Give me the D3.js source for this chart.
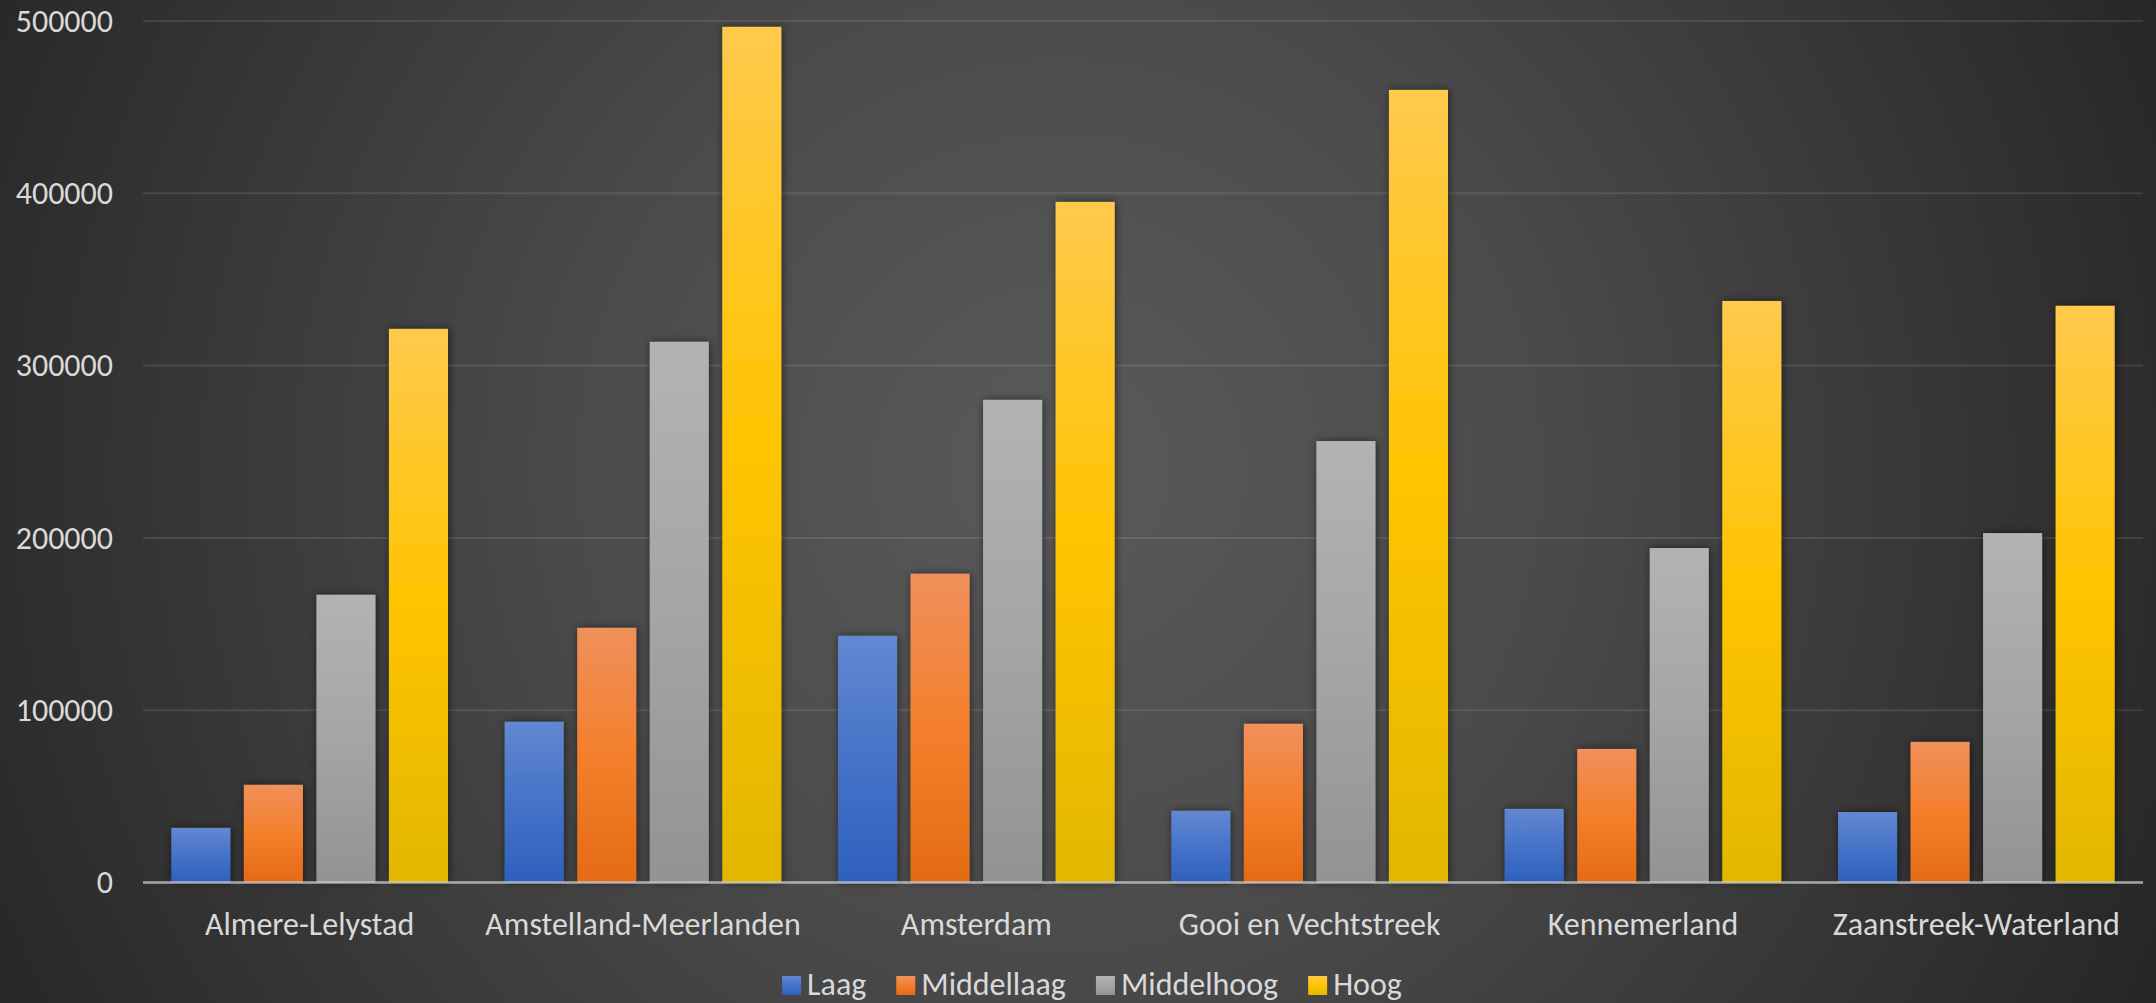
<!DOCTYPE html>
<html>
<head>
<meta charset="utf-8">
<script src="https://cdn.jsdelivr.net/npm/d3@7"></script>
<style>
  html, body { margin: 0; padding: 0; background: #2a2a2a; }
  svg { display: block; }
  text { font-family: Carlito, Calibri, Lato, "Open Sans", sans-serif; fill: #d9d9d9; }
</style>
</head>
<body>
<div id="chart"></div>
<script>
const categories = ["Almere-Lelystad", "Amstelland-Meerlanden", "Amsterdam", "Gooi en Vechtstreek", "Kennemerland", "Zaanstreek-Waterland"];
const seriesNames = ["Laag", "Middellaag", "Middelhoog", "Hoog"];
const laag = [31700, 93300, 143200, 41600, 42700, 40900];
const middellaag = [56700, 147800, 179200, 92100, 77500, 81600];
const middelhoog = [167000, 313800, 280100, 256200, 194100, 202800];
const hoog = [321300, 496600, 395000, 460000, 337500, 334700];
const yTicks = [0, 100000, 200000, 300000, 400000, 500000];

const seriesValues = [laag, middellaag, middelhoog, hoog];
const gradStops = [
  ["#6388d1", "#4673c8", "#2e60bd"],
  ["#f0905c", "#f47f2c", "#e46b15"],
  ["#b3b3b3", "#a5a5a5", "#939393"],
  ["#ffc94c", "#ffc400", "#e2b700"]
];

const W = 2156, H = 1003;
const margin = { left: 143, right: 13, top: 21, bottom: 120 };
const plotW = W - margin.left - margin.right;
const FS = 32;

const svg = d3.select("#chart").append("svg").attr("width", W).attr("height", H);
const defs = svg.append("defs");

const bg = defs.append("radialGradient").attr("id", "bg")
  .attr("gradientUnits", "userSpaceOnUse")
  .attr("cx", 1060).attr("cy", 470).attr("r", 1190);
[[0, "#5a5a5a"], [0.4, "#4b4b4b"], [0.8, "#333333"], [1, "#272727"]]
  .forEach(([o, c]) => bg.append("stop").attr("offset", o).attr("stop-color", c));

gradStops.forEach((s, i) => {
  const g = defs.append("linearGradient").attr("id", "g" + i)
    .attr("x1", 0).attr("y1", 0).attr("x2", 0).attr("y2", 1);
  g.append("stop").attr("offset", 0).attr("stop-color", s[0]);
  g.append("stop").attr("offset", 0.5).attr("stop-color", s[1]);
  g.append("stop").attr("offset", 1).attr("stop-color", s[2]);
});

const f = defs.append("filter").attr("id", "shadow")
  .attr("x", "-50%").attr("y", "-10%").attr("width", "200%").attr("height", "120%");
f.append("feDropShadow").attr("dx", 1).attr("dy", 0).attr("stdDeviation", 4)
  .attr("flood-color", "#000").attr("flood-opacity", 0.55);

svg.append("rect").attr("width", W).attr("height", H).attr("fill", "url(#bg)");

const y = d3.scaleLinear().domain([0, 500000]).range([882.5, 21]);
const x0 = d3.scaleBand().domain(categories).range([margin.left, margin.left + plotW])
  .paddingInner(0.17).paddingOuter(0.085);
const x1 = d3.scaleBand().domain(seriesNames).range([0, x0.bandwidth()])
  .paddingInner(0.186).paddingOuter(0);

// gridlines
svg.append("g").selectAll("line").data(yTicks.filter(d => d > 0)).join("line")
  .attr("x1", margin.left).attr("x2", margin.left + plotW)
  .attr("y1", d => y(d)).attr("y2", d => y(d))
  .attr("stroke", "#ffffff").attr("stroke-opacity", 0.1).attr("stroke-width", 2);

// y axis labels
const yAxis = d3.axisLeft(y).tickValues(yTicks).tickFormat(d3.format("d")).tickSize(0).tickPadding(0);
const ya = svg.append("g").attr("transform", "translate(113,0)").call(yAxis);
ya.select(".domain").remove();
ya.selectAll("text").attr("font-size", FS).attr("fill", "#d9d9d9")
  .style("font-family", "Carlito, Calibri, Lato, sans-serif");

// bars
const groups = svg.append("g").selectAll("g").data(categories).join("g")
  .attr("transform", d => `translate(${x0(d)},0)`);
groups.selectAll("rect")
  .data((c, ci) => seriesNames.map((s, si) => ({ s, si, v: seriesValues[si][ci] })))
  .join("rect")
  .attr("x", d => x1(d.s))
  .attr("width", x1.bandwidth())
  .attr("y", d => y(d.v))
  .attr("height", d => y(0) - y(d.v))
  .attr("fill", d => `url(#g${d.si})`)
  .attr("filter", "url(#shadow)");

// zero axis line
svg.append("line").attr("x1", margin.left).attr("x2", margin.left + plotW)
  .attr("y1", y(0)).attr("y2", y(0))
  .attr("stroke", "#d0d0d0").attr("stroke-opacity", 0.75).attr("stroke-width", 2.5);

// x axis labels
const xAxis = d3.axisBottom(x0).tickSize(0).tickPadding(0);
const xa = svg.append("g").call(xAxis);
xa.select(".domain").remove();
xa.selectAll("text").attr("y", 935).attr("dy", null).attr("font-size", FS).attr("fill", "#d9d9d9")
  .style("font-family", "Carlito, Calibri, Lato, sans-serif");

// legend
const legend = svg.append("g");
const items = legend.selectAll("g").data(seriesNames).join("g");
items.append("rect").attr("width", 19).attr("height", 19).attr("y", 976)
  .attr("fill", (d, i) => `url(#g${i})`);
items.append("text").attr("x", 25).attr("y", 995).attr("font-size", FS).text(d => d);
let xpos = 0;
const positions = [];
items.each(function () {
  const w = this.querySelector("text").getComputedTextLength();
  positions.push(xpos);
  xpos += 25 + w + 30;
});
const totalW = xpos - 30;
const startX = 1092 - totalW / 2;
items.attr("transform", (d, i) => `translate(${startX + positions[i]},0)`);
</script>
</body>
</html>
